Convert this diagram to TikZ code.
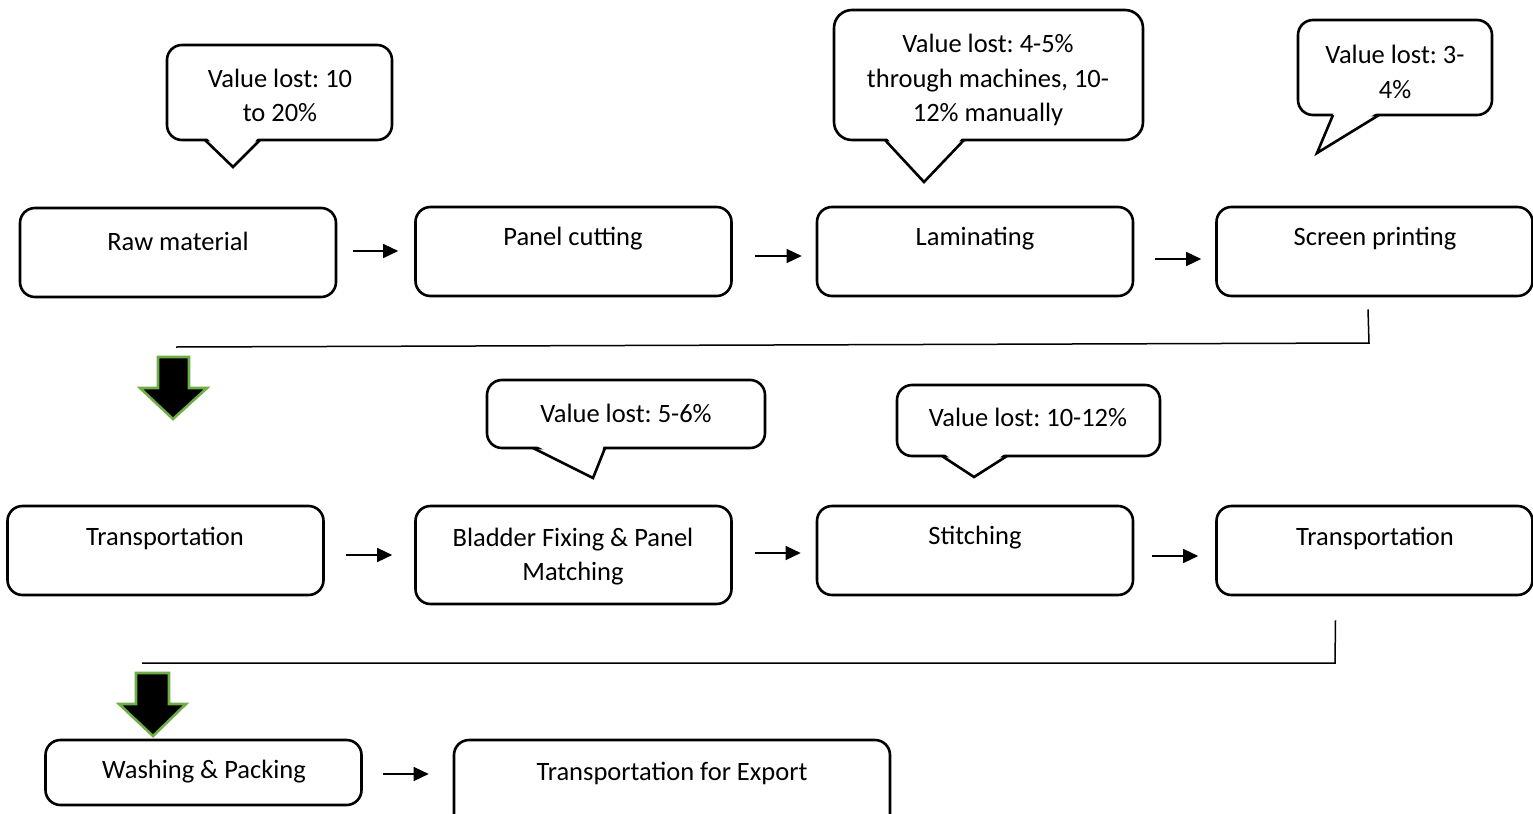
\documentclass[tikz,border=0pt]{standalone}
\usepackage{fontspec}
\setmainfont{Carlito}
\usetikzlibrary{arrows.meta,calc}
\definecolor{arrgreen}{HTML}{70AD47}
\frenchspacing
\begin{document}
\begin{tikzpicture}[x=0.5pt,y=-0.5pt,
  font=\fontsize{13.25}{17.4}\selectfont,
  stepbox/.style={draw,line width=1.3pt,rounded corners=7.5pt,minimum width=158pt,minimum height=44.5pt,inner sep=0pt},
  txt/.style={inner sep=0pt,align=center},
  callout/.style={draw,line width=1.3pt,rounded corners=7.5pt},
  tail/.style={draw,line width=1.3pt,line join=miter},
  flow/.style={line width=0.7pt,-{Triangle[length=7.5pt,width=7pt]}},
  conn/.style={line width=0.75pt},
  blockarrow/.style={fill=black,draw=arrgreen,line width=1.3pt,line join=miter}]
\useasboundingbox (0,0) rectangle (1533,814);

% ---- row 1 boxes
\node[stepbox] (raw) at (178,252.5) {};
\node[txt] at (178,241) {Raw material};
\node[stepbox] (panel) at (573.5,251.5) {};
\node[txt] at (573,239) {Panel cutting};
\node[stepbox] (lam) at (975,251.5) {};
\node[txt] at (975,239) {Laminating};
\node[stepbox] (screen) at (1374.5,251.5) {};
\node[txt] at (1375,239) {Screen printing};

% ---- row 2 boxes
\node[stepbox] (trans1) at (165.5,550.5) {};
\node[txt] at (165,538) {Transportation};
\node[stepbox,minimum height=49pt] (bladder) at (573.5,555) {};
\node[txt] at (573,556.5) {Bladder Fixing \& Panel\\Matching};
\node[stepbox] (stitch) at (975,550.5) {};
\node[txt] at (975,538) {Stitching};
\node[stepbox] (trans2) at (1374.5,550.5) {};
\node[txt] at (1375,538) {Transportation};

% ---- row 3 boxes
\node[stepbox,minimum height=32.5pt] (wash) at (203.5,772.5) {};
\node[txt] at (204,772) {Washing \& Packing};
\node[stepbox,minimum width=218pt,minimum height=45pt] (export) at (672,785) {};
\node[txt] at (672,773) {Transportation for Export};

% ---- flow arrows
\draw[flow] ([shift={(16,-1.5)}]raw.east) -- ([shift={(-16,-0.5)}]panel.west);
\draw[flow] ([shift={(22,4.5)}]panel.east) -- ([shift={(-14,4.5)}]lam.west);
\draw[flow] ([shift={(21,7.5)}]lam.east) -- ([shift={(-14,7.5)}]screen.west);
\draw[flow] ([shift={(21,4.5)}]trans1.east) -- ([shift={(-22,0)}]bladder.west);
\draw[flow] ([shift={(22,-2)}]bladder.east) -- ([shift={(-15,2.5)}]stitch.west);
\draw[flow] ([shift={(18,5.5)}]stitch.east) -- ([shift={(-17,5.5)}]trans2.west);
\draw[flow] ([shift={(20,1.5)}]wash.east) -- ([shift={(-24,-11)}]export.west);

% ---- return connectors
\coordinate (r1a) at ([shift={(-6.5,12)}]screen.south);
\coordinate (r1b) at (1369,343);
\coordinate (r1c) at (176,347);
\draw[conn] (r1a) -- (r1b) -- (r1c);
\coordinate (r2a) at ([shift={(-39,24)}]trans2.south);
\coordinate (r2b) at (1335,663);
\coordinate (r2c) at (142,663);
\draw[conn] (r2a) -- (r2b) -- (r2c);

% ---- block arrows
\draw[blockarrow] (158,357) -- (189,357) -- (189,388) -- (207,388) -- (173,419) -- (140,388) -- (158,388) -- cycle;
\draw[blockarrow] (136,673) -- (169,673) -- (169,704) -- (186,704) -- (153,736) -- (119,704) -- (136,704) -- cycle;

% ---- callouts
\draw[callout] (167,45) rectangle (392,140);
\fill[white] (206,137) -- (259,137) -- (233,165) -- cycle;
\draw[tail] (205,140) -- (233,167) -- (260,140);
\node[txt] at (280,95.5) {Value lost: 10\\to 20\%};

\draw[callout,rounded corners=9pt] (834,10) rectangle (1143,140);
\fill[white] (886,137) -- (963,137) -- (924,180) -- cycle;
\draw[tail] (885,140) -- (924,182) -- (964,140);
\node[txt] at (988,80) {Value lost: 4-5\%\\through machines, 10-\\12\% manually};

\draw[callout] (1298,20) rectangle (1492,115);
\fill[white] (1334,112) -- (1378,112) -- (1318,150) -- cycle;
\draw[tail] (1333,115) -- (1317,153) -- (1379,115);
\node[txt] at (1395,72) {Value lost: 3-\\4\%};

\draw[callout] (487,380) rectangle (765,448);
\fill[white] (535,445) -- (604,445) -- (593,476) -- cycle;
\draw[tail] (533,448) -- (593,478) -- (605,448);
\node[txt] at (626,413) {Value lost: 5-6\%};

\draw[callout] (897,385) rectangle (1160,456);
\fill[white] (943,453) -- (1006,453) -- (974,475) -- cycle;
\draw[tail] (942,456) -- (974,477) -- (1007,456);
\node[txt] at (1028,417) {Value lost: 10-12\%};
\end{tikzpicture}
\end{document}
